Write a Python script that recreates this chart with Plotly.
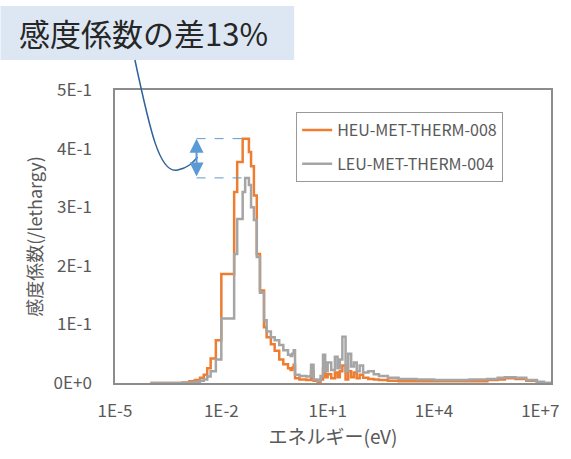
import math
import plotly.graph_objects as go

# Energy group edges (eV); each value below applies from edge[i] to edge[i+1]
energy_edges = [
    1e-4, 8e-4, 1.26e-3, 1.78e-3, 2.5e-3, 3.2e-3, 4e-3, 5e-3, 7e-3, 1e-2,
    2.3e-2, 2.8e-2, 4e-2, 4.7e-2, 6e-2, 6.9e-2, 8.3e-2, 0.1, 0.123, 0.16,
    0.19, 0.25, 0.32, 0.43, 0.56, 0.76, 0.9, 1.0, 1.1, 1.2,
    1.6, 2.5, 3.2, 3.4, 4.0, 5.2, 6.3, 7.4, 8.5, 10,
    12.6, 16, 19, 22, 26, 32, 38, 46, 55, 66,
    80, 100, 140, 200, 280, 500, 1e3, 3.2e3, 1e4, 3.2e4,
    1e5, 3.2e5, 6.3e5, 1e6, 2e6, 4e6, 8e6, 1.26e7, 2e7,
]

# Sensitivity per lethargy, HEU-MET-THERM-008
heu = [
    0.0, 0.001, 0.003, 0.005, 0.009, 0.014, 0.025, 0.042, 0.073, 0.186,
    0.326, 0.377, 0.417, 0.417, 0.394, 0.370, 0.320, 0.220, 0.158, 0.095,
    0.078, 0.066, 0.055, 0.040, 0.032, 0.025, 0.022, 0.026, 0.031, 0.008,
    0.006, 0.005, 0.005, 0.020, 0.004, 0.002, 0.006, 0.025, 0.010, 0.015,
    0.008, 0.018, 0.010, 0.020, 0.030, 0.006, 0.020, 0.010, 0.018, 0.008,
    0.014, 0.009, 0.007, 0.006, 0.005, 0.004, 0.003, 0.003, 0.003, 0.003,
    0.003, 0.005, 0.006, 0.008, 0.007, 0.004, 0.001, 0.0,
]

# Sensitivity per lethargy, LEU-MET-THERM-004
leu = [
    0.0, 0.0005, 0.001, 0.002, 0.004, 0.006, 0.011, 0.020, 0.040, 0.110,
    0.220, 0.280, 0.326, 0.350, 0.338, 0.300, 0.278, 0.215, 0.154, 0.107,
    0.088, 0.078, 0.073, 0.065, 0.056, 0.048, 0.046, 0.050, 0.056, 0.014,
    0.012, 0.011, 0.012, 0.031, 0.006, 0.004, 0.012, 0.048, 0.020, 0.035,
    0.022, 0.045, 0.025, 0.040, 0.079, 0.020, 0.050, 0.028, 0.035, 0.020,
    0.030, 0.018, 0.020, 0.015, 0.012, 0.009, 0.007, 0.006, 0.005, 0.005,
    0.006, 0.007, 0.009, 0.010, 0.009, 0.005, 0.002, 0.0,
]

x_tick_vals = [1e-5, 1e-2, 1e1, 1e4, 1e7]
x_tick_text = ["1E-5", "1E-2", "1E+1", "1E+4", "1E+7"]
y_tick_vals = [0, 0.1, 0.2, 0.3, 0.4, 0.5]
y_tick_text = ["0E+0", "1E-1", "2E-1", "3E-1", "4E-1", "5E-1"]

# Energy where the double-headed difference arrow sits
arrow_energy = 2e-3

FONT = "Noto Sans CJK JP"
ORANGE = "#ED7D31"
GRAY = "#A5A5A5"
BLUE = "#5B9BD5"
TEXT = "#595959"

fig = go.Figure()

fig.add_trace(go.Scatter(
    x=energy_edges, y=heu + [heu[-1]], mode="lines", line_shape="hv",
    line=dict(color=ORANGE, width=2.5), name="HEU-MET-THERM-008",
    legendgroup="a",
))
fig.add_trace(go.Scatter(
    x=energy_edges, y=leu + [leu[-1]], mode="lines", line_shape="hv",
    line=dict(color=GRAY, width=2.5), name="LEU-MET-THERM-004",
    legendgroup="b",
))

# Dashed guides from the two peak maxima to the arrow
heu_peak = max(heu)
leu_peak = max(leu)
heu_peak_e = energy_edges[heu.index(heu_peak)]
leu_peak_e = energy_edges[leu.index(leu_peak)]
for yv, xe in [(heu_peak, heu_peak_e), (leu_peak, leu_peak_e)]:
    fig.add_trace(go.Scatter(
        x=[arrow_energy, xe], y=[yv, yv], mode="lines",
        line=dict(color=BLUE, width=1, dash="dash"),
        showlegend=False, hoverinfo="skip",
    ))

ax_log = math.log10(arrow_energy)
fig.add_annotation(
    x=ax_log, y=heu_peak, ax=ax_log, ay=leu_peak, xref="x", yref="y",
    axref="x", ayref="y", text="", showarrow=True, arrowside="end+start",
    arrowhead=2, startarrowhead=2, arrowsize=1.4, startarrowsize=1.4,
    arrowwidth=2, arrowcolor=BLUE, standoff=0, startstandoff=0,
)

# Callout box
fig.add_shape(
    type="rect", xref="paper", yref="paper",
    x0=-0.2626, x1=0.411, y0=1.1024, y1=1.2867,
    fillcolor="#DDE7F3", line=dict(width=0), layer="above",
)
fig.add_annotation(
    xref="paper", yref="paper", x=0.066, y=1.195, showarrow=False,
    text="感度係数の差13%", font=dict(family=FONT, size=31, color="#262626"),
    xanchor="center", yanchor="middle",
)
# Leader curve from the box to the arrow
fig.add_shape(
    type="path", xref="paper", yref="paper",
    path=("M 0.0457 1.1024 C 0.0799 0.8635, 0.1027 0.7099, 0.1438 0.727 "
          "C 0.1667 0.7338, 0.1781 0.7509, 0.1895 0.7713"),
    line=dict(color="#2F6399", width=1.5), layer="above",
)

fig.update_layout(
    width=571, height=459,
    margin=dict(l=115, r=18, t=90, b=76),
    paper_bgcolor="white", plot_bgcolor="white",
    font=dict(family=FONT, color=TEXT, size=17),
    showlegend=True,
    legend=dict(
        x=0.4155, y=0.925, xanchor="left", yanchor="top",
        bordercolor="#999999", borderwidth=1, bgcolor="white",
        font=dict(family=FONT, size=16, color=TEXT),
        tracegroupgap=10,
    ),
    xaxis=dict(
        type="log", range=[-5, math.log10(2e7)],
        tickvals=x_tick_vals, ticktext=x_tick_text,
        tickfont=dict(family=FONT, size=17, color=TEXT),
        showgrid=False, zeroline=False,
        showline=True, mirror=True, linecolor="#8C8C8C", linewidth=1.5,
        ticks="", ticklabelstandoff=12,
        title=dict(text="エネルギー(eV)", font=dict(family=FONT, size=19, color=TEXT), standoff=6),
    ),
    yaxis=dict(
        range=[0, 0.5], tickvals=y_tick_vals, ticktext=y_tick_text,
        tickfont=dict(family=FONT, size=17, color=TEXT),
        showgrid=False, zeroline=False,
        showline=True, mirror=True, linecolor="#8C8C8C", linewidth=1.5,
        ticks="", ticklabelstandoff=18,
        title=dict(text="感度係数(/lethargy)", font=dict(family=FONT, size=18, color=TEXT), standoff=6),
    ),
)

fig.write_html("out.html")
